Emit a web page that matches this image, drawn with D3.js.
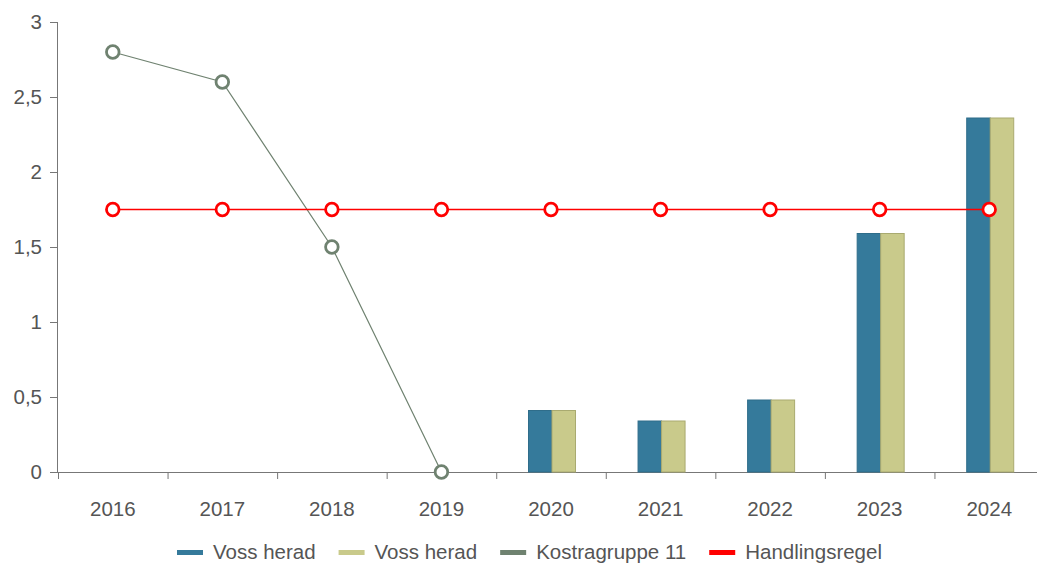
<!DOCTYPE html>
<html><head><meta charset="utf-8">
<script src="https://cdn.jsdelivr.net/npm/d3@7"></script>
<style>body{margin:0;background:#fff;} svg{display:block;font-family:"Liberation Sans",Arial,sans-serif;}</style>
</head><body><svg id="c" width="1037" height="565"></svg>
<script>
const years = ["2016","2017","2018","2019","2020","2021","2022","2023","2024"];
const vossA = [null,null,null,null,0.41,0.34,0.48,1.59,2.36];
const vossB = [null,null,null,null,0.41,0.34,0.48,1.59,2.36];
const kostra = [2.8,2.6,1.5,0,null,null,null,null,null];
const regel = [1.75,1.75,1.75,1.75,1.75,1.75,1.75,1.75,1.75];
const yTicks = [0,0.5,1,1.5,2,2.5,3];
const legendNames = ["Voss herad","Voss herad","Kostragruppe 11","Handlingsregel"];
const colors = ["#357a9b","#c9ca8b","#6f8270","#ff0000"];

const svg = d3.select("#c");
const m = {l:58, r:1044, t:22, b:472};
const x = d3.scaleBand().domain(years).range([m.l, m.r]);
const y = d3.scaleLinear().domain([0,3]).range([m.b, m.t]);
const fmt = d => String(d).replace(".", ",");
const txt = "#555";
const fs = "20.5px";

// y axis
const ya = svg.append("g").attr("transform",`translate(${m.l},0)`)
  .call(d3.axisLeft(y).tickValues(yTicks).tickFormat(fmt).tickSize(8).tickPadding(8));
ya.select(".domain").attr("stroke","#777").attr("d",`M-0.5,${m.b}V${m.t}`);
ya.selectAll(".tick line").attr("stroke","#777");
ya.selectAll(".tick text").attr("fill",txt).style("font-size",fs);

// x axis
const xa = svg.append("g").attr("transform",`translate(0,${m.b})`)
  .call(d3.axisBottom(x).tickSize(0).tickPadding(29));
xa.select(".domain").attr("stroke","#777").attr("d",`M${m.l-4},0.5H${m.r}`);
xa.selectAll(".tick text").attr("fill",txt).style("font-size",fs);
// separators between categories
xa.selectAll(".sep").data(years).enter().append("line")
  .attr("x1",d=>x(d)+0.5).attr("x2",d=>x(d)+0.5).attr("y1",0).attr("y2",7)
  .attr("stroke","#777");
xa.append("line").attr("x1",m.r-0.5).attr("x2",m.r-0.5).attr("y1",0).attr("y2",7).attr("stroke","#777");

// bars
const bw = 23.5;
[vossA, vossB].forEach((arr,i)=>{
  svg.append("g").selectAll("rect").data(years.map((yr,j)=>({yr,v:arr[j]})).filter(d=>d.v!=null))
    .enter().append("rect")
    .attr("x",d=>x(d.yr)+x.bandwidth()/2 - bw + i*bw + 1)
    .attr("y",d=>y(d.v))
    .attr("width",bw).attr("height",d=>y(0)-y(d.v))
    .attr("fill",colors[i])
    .attr("stroke", i===0 ? "#2f6d8a" : "#a9aa70").attr("stroke-width",1);
});

// lines
function drawLine(arr,color,w){
  const pts = years.map((yr,j)=>({yr,v:arr[j]})).filter(d=>d.v!=null);
  svg.append("path").datum(pts)
    .attr("d", d3.line().x(d=>x(d.yr)+x.bandwidth()/2).y(d=>y(d.v)))
    .attr("fill","none").attr("stroke",color).attr("stroke-width",w);
  svg.append("g").selectAll("circle").data(pts).enter().append("circle")
    .attr("cx",d=>x(d.yr)+x.bandwidth()/2).attr("cy",d=>y(d.v)).attr("r",6.3)
    .attr("fill","#fff").attr("stroke",color).attr("stroke-width",2.8);
}
drawLine(kostra, colors[2], 1.2);
drawLine(regel, colors[3], 1.6);

// legend
const lg = svg.append("g").attr("transform","translate(0,552)");
let lx = 177;
legendNames.forEach((n,i)=>{
  const g = lg.append("g").attr("transform",`translate(${lx},0)`);
  g.append("rect").attr("x",0).attr("y",-2).attr("width",26).attr("height",5).attr("fill",colors[i]);
  const t = g.append("text").attr("x",36).attr("y",7).attr("fill",txt).style("font-size",fs).text(n);
  lx += 36 + t.node().getComputedTextLength() + 23;
});
</script></body></html>
